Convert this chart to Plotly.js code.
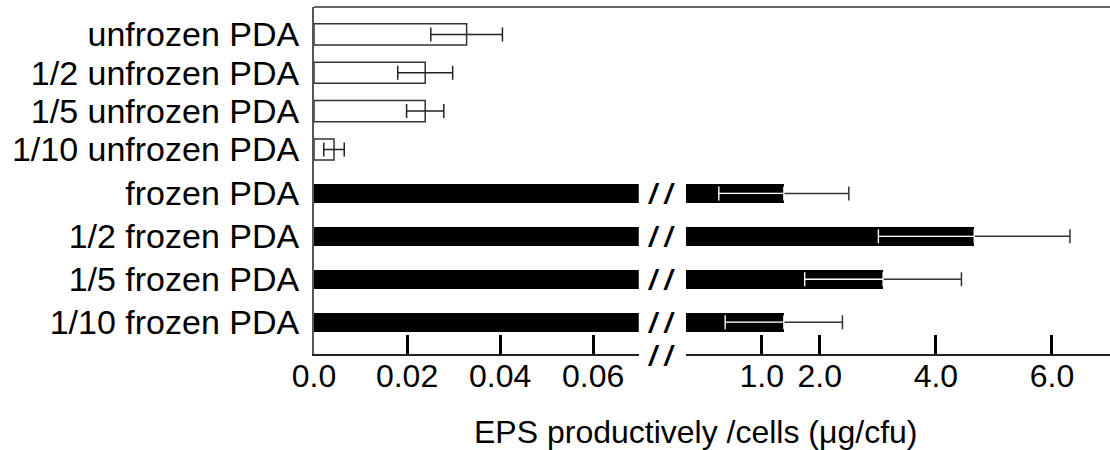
<!DOCTYPE html>
<html>
<head>
<meta charset="utf-8">
<script src="https://cdn.plot.ly/plotly-3.0.1.min.js"></script>
<style>html,body{margin:0;padding:0;background:#fff}#chart{width:1110px;height:450px}</style>
</head>
<body>
<div id="chart"></div>
<script>
// ---- data ----
const unfrozenCats = ['unfrozen PDA', '1/2 unfrozen PDA', '1/5 unfrozen PDA', '1/10 unfrozen PDA'];
const unfrozenVals = [0.0328, 0.0239, 0.0239, 0.0043];
const unfrozenErr  = [0.0077, 0.0059, 0.0040, 0.0022];

const frozenCats = ['frozen PDA', '1/2 frozen PDA', '1/5 frozen PDA', '1/10 frozen PDA'];
const frozenVals = [1.38, 4.66, 3.09, 1.38];
const frozenErr  = [1.12, 1.65, 1.35, 1.01];

const leftTickVals  = [0, 0.02, 0.04, 0.06];
const leftTickText  = ['0.0', '0.02', '0.04', '0.06'];
const rightTickVals = [1, 2, 4, 6];
const rightTickText = ['1.0', '2.0', '4.0', '6.0'];

const xTitle = 'EPS productively /cells (μg/cfu)';

// ---- axis ranges ----
const LEFT_RANGE  = [0, 0.0698];
const RIGHT_RANGE = [-0.31, 7.0];
const rightBase = RIGHT_RANGE[0];

const FONT = 'Liberation Sans, Arial, sans-serif';

const traces = [
  // unfrozen (left segment, top)
  {
    type: 'bar', orientation: 'h', xaxis: 'x', yaxis: 'y',
    y: unfrozenCats, x: unfrozenVals, width: 0.55,
    marker: {color: '#ffffff', line: {color: '#333333', width: 1.5}},
    error_x: {type: 'data', array: unfrozenErr, visible: true, color: '#222222', thickness: 1.5, width: 7},
    hoverinfo: 'x+y', showlegend: false
  },
  // frozen (left segment, bottom) – clipped by axis break
  {
    type: 'bar', orientation: 'h', xaxis: 'x', yaxis: 'y2',
    y: frozenCats, x: frozenVals, width: 0.44,
    marker: {color: '#000000', line: {width: 0}},
    hoverinfo: 'skip', showlegend: false
  },
  // frozen (right segment)
  {
    type: 'bar', orientation: 'h', xaxis: 'x2', yaxis: 'y2',
    y: frozenCats, x: frozenVals.map(v => v - rightBase), base: rightBase, width: 0.44,
    marker: {color: '#000000', line: {width: 0}},
    hoverinfo: 'skip', showlegend: false
  },
  // dark error bars (full)
  {
    type: 'scatter', mode: 'markers', xaxis: 'x2', yaxis: 'y2',
    y: frozenCats, x: frozenVals, marker: {size: 1, opacity: 0},
    error_x: {type: 'data', symmetric: false, array: frozenErr, arrayminus: frozenErr, color: '#333333', thickness: 1.5, width: 7},
    hoverinfo: 'x+y', showlegend: false
  },
  // white part of error bars inside the black bars
  {
    type: 'scatter', mode: 'markers', xaxis: 'x2', yaxis: 'y2',
    y: frozenCats, x: frozenVals, marker: {size: 1, opacity: 0},
    error_x: {type: 'data', symmetric: false, array: frozenVals.map(() => 0), arrayminus: frozenErr, color: '#ffffff', thickness: 1.3, width: 7},
    hoverinfo: 'skip', showlegend: false
  }
];

const tickFont = {family: FONT, size: 32, color: '#000'};
const catFont = {family: FONT, size: 34, color: '#000'};
const breakFont = {family: FONT, size: 28, color: '#000'};

const breakAnn = frozenCats.map(c => ({
  xref: 'paper', yref: 'y2', x: 0.437, y: c, text: '<b><i>/ /</i></b>', showarrow: false,
  font: breakFont, xanchor: 'center', yanchor: 'middle'
}));

const layout = {
  width: 1110, height: 450,
  margin: {l: 314, r: 0, t: 7, b: 96},
  paper_bgcolor: '#ffffff', plot_bgcolor: 'rgba(0,0,0,0)',
  bargap: 0,
  xaxis: {
    domain: [0, 0.408], range: LEFT_RANGE, anchor: 'y2',
    tickmode: 'array', tickvals: leftTickVals, ticktext: leftTickText,
    ticks: 'inside', ticklen: 19, tickwidth: 3, tickcolor: '#000',
    showline: true, linecolor: '#222', linewidth: 1.5,
    showgrid: false, zeroline: false, tickfont: tickFont, ticklabelstandoff: -7
  },
  xaxis2: {
    domain: [0.467, 1], range: RIGHT_RANGE, anchor: 'y2',
    tickmode: 'array', tickvals: rightTickVals, ticktext: rightTickText,
    ticks: 'inside', ticklen: 19, tickwidth: 3, tickcolor: '#000',
    showline: true, linecolor: '#222', linewidth: 1.5,
    showgrid: false, zeroline: false, tickfont: tickFont, ticklabelstandoff: -7
  },
  yaxis: {
    domain: [0.5274, 1], anchor: 'x', type: 'category',
    categoryorder: 'array', categoryarray: unfrozenCats, range: [3.562, -0.714],
    tickmode: 'array', tickvals: unfrozenCats, ticktext: unfrozenCats,
    showline: true, linecolor: '#555', linewidth: 2, ticks: '', showgrid: false, zeroline: false,
    tickfont: catFont, ticklabelstandoff: 6
  },
  yaxis2: {
    domain: [0, 0.5274], anchor: 'x', type: 'category',
    categoryorder: 'array', categoryarray: frozenCats, range: [3.742, -0.523],
    tickmode: 'array', tickvals: frozenCats, ticktext: frozenCats,
    showline: true, linecolor: '#555', linewidth: 2, ticks: '', showgrid: false, zeroline: false,
    tickfont: catFont, ticklabelstandoff: 6
  },
  shapes: [
    {type: 'line', xref: 'paper', yref: 'paper', x0: 0, x1: 1, y0: 1, y1: 1, line: {color: '#666', width: 2}}
  ],
  annotations: breakAnn.concat([
    {xref: 'paper', yref: 'paper', x: 0.437, y: 0, yshift: -1, text: '<b><i>/ /</i></b>', showarrow: false,
     font: breakFont, xanchor: 'center', yanchor: 'middle', bgcolor: '#ffffff'},
    {xref: 'paper', yref: 'paper', x: 0.479, y: 0, yshift: -58, text: xTitle, showarrow: false,
     font: {family: FONT, size: 32, color: '#000'}, xanchor: 'center', yanchor: 'top'}
  ])
};

Plotly.newPlot('chart', traces, layout, {displayModeBar: false, staticPlot: true});
</script>
</body>
</html>
